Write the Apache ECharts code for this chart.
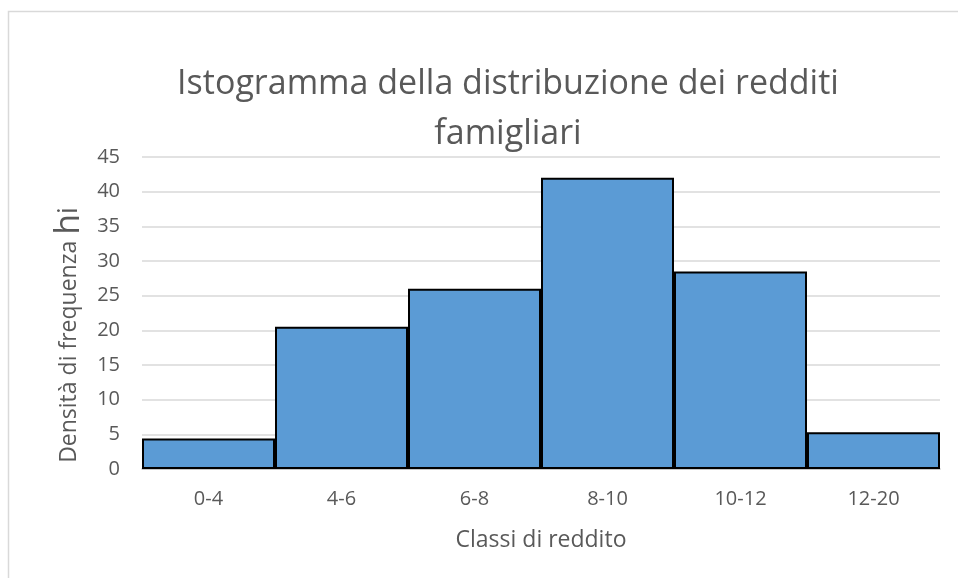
<!DOCTYPE html>
<html>
<head>
<meta charset="utf-8">
<script src="https://cdn.jsdelivr.net/npm/echarts@6/dist/echarts.min.js"></script>
<style>html,body{margin:0;padding:0;background:#fff;}#c{width:958px;height:578px;}</style>
</head>
<body>
<div id="c"></div>
<script>
const categories = ['0-4', '4-6', '6-8', '8-10', '10-12', '12-20'];
const densities = [4.4, 20.5, 26, 42, 28.5, 5.3];
const titleText = 'Istogramma della distribuzione dei redditi\nfamigliari';
const xName = 'Classi di reddito';

const FONT = '"Open Sans", sans-serif';
const chart = echarts.init(document.getElementById('c'));
chart.setOption({
  animation: false,
  backgroundColor: '#fff',
  graphic: [{
    type: 'rect', shape: {x: 8.5, y: 11.5, width: 1200, height: 1200},
    style: {fill: 'none', stroke: '#d9d9d9', lineWidth: 1.5}, silent: true
  }],
  title: {
    text: titleText,
    left: 503, top: 54, textAlign: 'center',
    textStyle: {fontFamily: FONT, fontSize: 34, fontWeight: 'normal', color: '#595959', lineHeight: 50}
  },
  grid: {left: 142, right: 18, top: 157, bottom: 109},
  xAxis: {
    type: 'category', data: categories,
    name: xName, nameLocation: 'middle', nameGap: 60,
    nameTextStyle: {fontFamily: FONT, fontSize: 23, color: '#595959'},
    axisLine: {lineStyle: {color: '#bfbfbf', width: 1.5}},
    axisTick: {show: false},
    axisLabel: {fontFamily: FONT, fontSize: 20, color: '#595959', margin: 20}
  },
  yAxis: {
    type: 'value', min: 0, max: 45, interval: 5,
    name: '{a|Densità di frequenza }{b|h}{c|i}', nameLocation: 'middle', nameGap: 54, nameRotate: 90,
    nameTextStyle: {
      fontFamily: FONT, color: '#595959', padding: [0, 44, 0, 0],
      rich: {
        a: {fontFamily: FONT, fontSize: 23, color: '#595959'},
        b: {fontFamily: FONT, fontSize: 34, color: '#595959'},
        c: {fontFamily: FONT, fontSize: 27, color: '#595959'}
      }
    },
    axisLine: {show: false}, axisTick: {show: false},
    splitLine: {lineStyle: {color: '#d9d9d9', width: 1.5}},
    axisLabel: {fontFamily: FONT, fontSize: 20, color: '#595959', margin: 22}
  },
  series: [{
    type: 'bar', data: densities,
    barCategoryGap: '0%',
    itemStyle: {color: '#5b9bd5', borderColor: '#000', borderWidth: 2}
  }]
});
</script>
</body>
</html>
